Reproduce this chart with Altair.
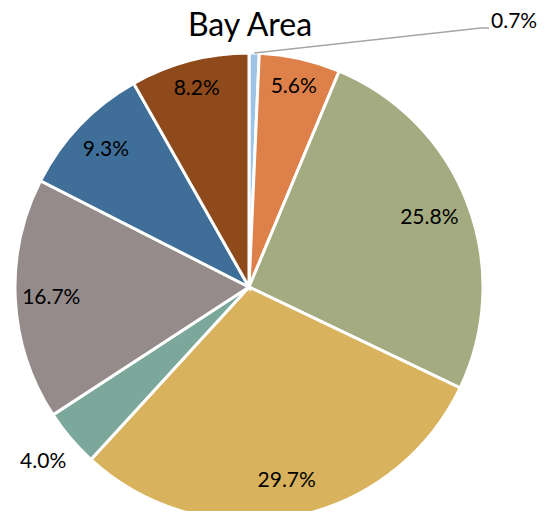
import altair as alt
import pandas as pd

title_text = ["Bay Area"]
categories = ["Cat A", "Cat B", "Cat C", "Cat D", "Cat E", "Cat F", "Cat G", "Cat H"]
shares = [0.7, 5.6, 25.8, 29.7, 4.0, 16.7, 9.3, 8.2]
colors = ["#9DC3E6", "#DE8049", "#A4AB80", "#D8B25C", "#7BA89B", "#958B8A", "#3F6F98", "#8F4A1C"]
placement = ["leader", "top", "near", "inside", "outside", "inside", "inside", "top"]
labels = [f"{v:.1f}%" for v in shares]

df = pd.DataFrame({
    "category": categories,
    "share": shares,
    "label": labels,
    "order": list(range(len(shares))),
    "placement": placement,
})
for grp in ["inside", "top", "near", "outside"]:
    df[grp + "_label"] = [l if p == grp else "" for l, p in zip(labels, placement)]

CX, CY, R = 241, 279, 234
FONT = "Lato"
FS = 21

base = alt.Chart(df).encode(
    theta=alt.Theta("share:Q", stack=True),
    order=alt.Order("order:Q"),
    x=alt.value(CX),
    y=alt.value(CY),
)

pie = base.mark_arc(outerRadius=R, stroke="white", strokeWidth=3).encode(
    color=alt.Color("category:N", scale=alt.Scale(domain=categories, range=colors), legend=None)
)

def label_layer(grp, radius):
    return base.mark_text(radius=radius, font=FONT, fontSize=FS, color="#000000").encode(
        text=f"{grp}_label:N"
    )

inside_text = label_layer("inside", 198)
top_text = label_layer("top", 205)
near_text = label_layer("near", 193)
outside_text = label_layer("outside", 270)

leader_src = (
    alt.Chart(df)
    .transform_window(cum="sum(share)", sort=[alt.SortField("order")], frame=[None, 0])
    .transform_joinaggregate(total="sum(share)")
    .transform_calculate(
        mid="(datum.cum - datum.share/2)/datum.total*2*PI",
        x0=f"{CX}+{R}*sin(datum.mid)",
        y0=f"{CY}-{R}*cos(datum.mid)",
    )
    .transform_filter("datum.placement == 'leader'")
)
leader1 = leader_src.mark_rule(color="#A6A6A6", strokeWidth=1.5).encode(
    x=alt.X("x0:Q", scale=None), y=alt.Y("y0:Q", scale=None),
    x2=alt.value(473), y2=alt.value(20),
)
leader2 = leader_src.mark_rule(color="#A6A6A6", strokeWidth=1.5).encode(
    x=alt.value(473), y=alt.value(20), x2=alt.value(481), y2=alt.value(20),
)
leader_text = leader_src.mark_text(
    align="left", baseline="middle", font=FONT, fontSize=FS, color="#000000"
).encode(x=alt.value(483), y=alt.value(14), text="label:N")

title = alt.Chart(pd.DataFrame({"t": title_text})).mark_text(
    font=FONT, fontSize=32, color="#000000", align="center", baseline="alphabetic"
).encode(x=alt.value(242), y=alt.value(28), text="t:N")

chart = (
    alt.layer(pie, inside_text, top_text, near_text, outside_text,
              leader1, leader2, leader_text, title)
    .properties(
        width=532,
        height=503,
        autosize=alt.AutoSizeParams(type="none"),
        padding=0,
    )
    .configure_view(stroke=None)
)

chart.save("out.html", embed_options={"renderer": "svg", "actions": False})
